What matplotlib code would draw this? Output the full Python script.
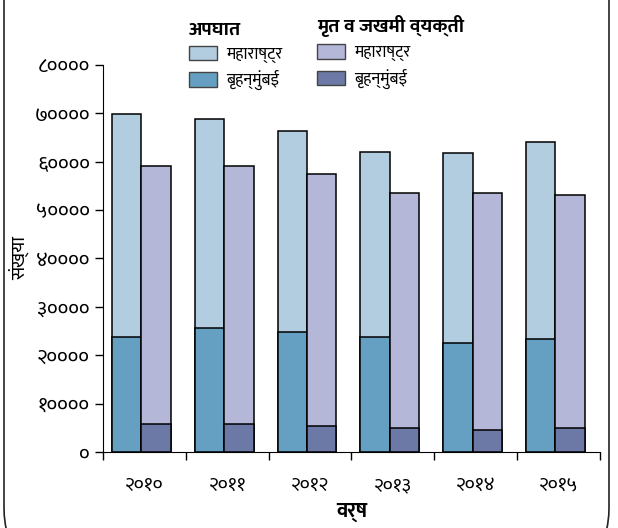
import matplotlib
matplotlib.use('Agg')
import matplotlib.pyplot as plt
from matplotlib import font_manager
from matplotlib.patches import Patch, FancyBboxPatch
import numpy as np

years = ['२०१०', '२०११', '२०१२', '२०१३', '२०१४', '२०१५']
accidents_mh = [69900, 68800, 66400, 62100, 61700, 64100]
accidents_mumbai = [23800, 25700, 24700, 23800, 22500, 23400]
victims_mh = [59100, 59100, 57500, 53500, 53500, 53100]
victims_mumbai = [5800, 5800, 5400, 5000, 4600, 5000]
yticks = [0, 10000, 20000, 30000, 40000, 50000, 60000, 70000, 80000]
ytick_labels = ['०', '१००००', '२००००', '३००००', '४००००', '५००००', '६००००', '७००००', '८००००']

# pick an installed devanagari font that also comes in a bold face
weights = {}
for f in font_manager.fontManager.ttflist:
    w = f.weight if isinstance(f.weight, int) else 400
    weights.setdefault(f.name, set()).add(w)
deva = None
for name in ['Noto Sans Devanagari', 'Mukta', 'Ek Mukta', 'Hind', 'Lohit Devanagari',
             'Yantramanav', 'Poppins', 'FreeSans']:
    if name in weights and max(weights[name]) >= 700 and min(weights[name]) <= 400:
        deva = name
        break
plt.rcParams['font.family'] = [deva, 'DejaVu Sans'] if deva else ['DejaVu Sans']

c_acc_mh = '#b2cde0'
c_acc_mum = '#659fc1'
c_vic_mh = '#b4b7d8'
c_vic_mum = '#6c79a7'

fig = plt.figure(figsize=(6.18, 5.28), dpi=100)
ax = fig.add_axes([0.1667, 0.144, 0.804, 0.733])

x = np.arange(len(years))
w = 0.355
kw = dict(edgecolor='black', linewidth=1.1)
ax.bar(x - 0.215, accidents_mh, w, color=c_acc_mh, **kw)
ax.bar(x - 0.215, accidents_mumbai, w, color=c_acc_mum, **kw)
ax.bar(x + 0.14, victims_mh, w, color=c_vic_mh, **kw)
ax.bar(x + 0.14, victims_mumbai, w, color=c_vic_mum, **kw)

ax.set_xlim(-0.5, len(years) - 0.5)
ax.set_ylim(0, 80000)
ax.spines['top'].set_visible(False)
ax.spines['right'].set_visible(False)

ax.set_yticks(yticks)
ax.set_yticklabels(ytick_labels, fontsize=15)
ax.set_xticks(np.arange(len(years) + 1) - 0.5)
ax.set_xticklabels([])
ax.set_xticks(x, minor=True)
ax.set_xticklabels(years, minor=True, fontsize=14)
ax.tick_params(axis='x', which='minor', length=0, pad=18)
ax.tick_params(axis='both', which='major', length=6, width=1)

ax.set_ylabel('संख्या', fontsize=14, labelpad=4)
ax.set_xlabel('वर्ष', fontsize=15, fontweight='bold', labelpad=6)

legend_kw = dict(loc='upper left', frameon=False, fontsize=12, alignment='left',
                 handlelength=1.7, handleheight=0.95, handletextpad=0.5, labelspacing=0.45,
                 borderpad=0.2, title_fontproperties={'weight': 'bold', 'size': 14})
fig.legend(handles=[Patch(facecolor=c_acc_mh, edgecolor='#444444', label='महाराष्ट्र'),
                    Patch(facecolor=c_acc_mum, edgecolor='#444444', label='बृहन्मुंबई')],
           title='अपघात', bbox_to_anchor=(0.287, 0.982), **legend_kw)
fig.legend(handles=[Patch(facecolor=c_vic_mh, edgecolor='#444444', label='महाराष्ट्र'),
                    Patch(facecolor=c_vic_mum, edgecolor='#444444', label='बृहन्मुंबई')],
           title='मृत व जखमी व्यक्ती', bbox_to_anchor=(0.494, 0.994), **legend_kw)

# page border, only the sides and rounded bottom corners are in view
border = FancyBboxPatch((4, -40), 605, 800, boxstyle='round,pad=0,rounding_size=60',
                        transform=None, fill=False, edgecolor='#222222', linewidth=1.2)
fig.patches.append(border)

fig.savefig('out.png', dpi=100)
